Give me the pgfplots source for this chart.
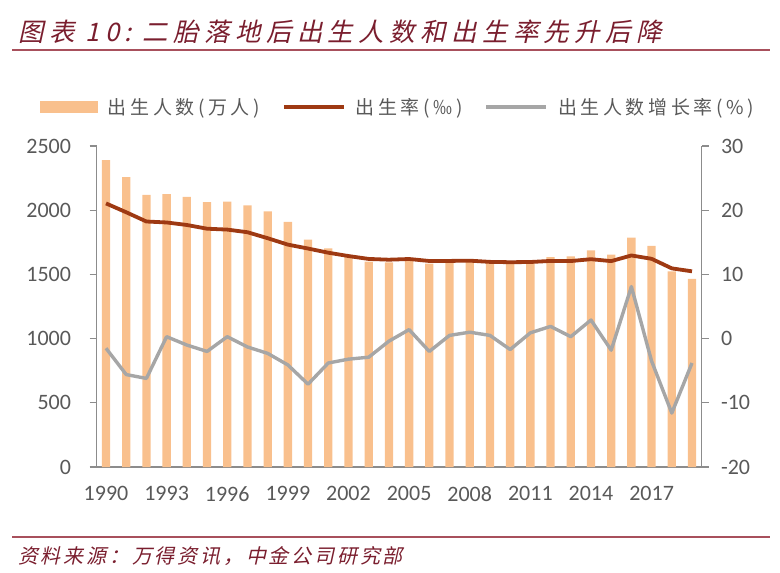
\documentclass[border=0pt]{standalone}
\usepackage{fontspec}
\setmainfont{Carlito}
\newfontfamily\cjkleg{Noto Sans CJK SC}[LetterSpace=19]
\newfontfamily\cjktitle{Noto Sans CJK SC}[FakeSlant=0.22,LetterSpace=21]
\newfontfamily\cjksrc{Noto Sans CJK SC}[FakeSlant=0.22,LetterSpace=14]
\usepackage{pgfplots}
\usepackage{pgfplotstable}
\pgfplotsset{compat=1.18}

\definecolor{barcol}{HTML}{F9C08D}
\definecolor{ratecol}{HTML}{9E3912}
\definecolor{growcol}{HTML}{A6A6A6}
\definecolor{axgray}{HTML}{8C8C8C}
\definecolor{txtgray}{HTML}{595959}
\definecolor{titlered}{HTML}{7A1E2E}
\definecolor{rulered}{HTML}{A8505C}

% year, births (10k), birth rate (permille), growth of births (%)
\pgfplotstableread{
year births rate growth
1990 2391 21.06 -1.5
1991 2258 19.68 -5.6
1992 2119 18.24 -6.2
1993 2126 18.09 0.3
1994 2104 17.70 -1.0
1995 2063 17.12 -2.0
1996 2067 16.98 0.3
1997 2038 16.57 -1.3
1998 1991 15.64 -2.3
1999 1909 14.64 -4.1
2000 1771 14.03 -7.1
2001 1702 13.38 -3.8
2002 1647 12.86 -3.2
2003 1599 12.41 -2.9
2004 1593 12.29 -0.4
2005 1617 12.40 1.4
2006 1584 12.09 -2.0
2007 1594 12.10 0.5
2008 1608 12.14 1.0
2009 1591 11.95 0.5
2010 1592 11.90 -1.7
2011 1604 11.93 0.9
2012 1635 12.10 1.9
2013 1640 12.08 0.3
2014 1687 12.37 2.9
2015 1655 12.07 -1.8
2016 1786 12.95 8.1
2017 1723 12.43 -3.5
2018 1523 10.94 -11.6
2019 1465 10.48 -3.8
}\data

\pgfplotsset{
  common/.style={
    scale only axis, width=605bp, height=321bp,
    at={(96.5bp,-467bp)}, anchor=south west,
    xmin=1989.53, xmax=2019.47,
    axis line style={draw=axgray, line width=1.3bp, -},
    tick style={draw=axgray, line width=1.3bp},
    tick align=outside, major tick length=7bp,
    tick label style={font=\fontsize{22bp}{26bp}\selectfont, text=txtgray},
    /pgf/number format/assume math mode=true,
    /pgf/number format/1000 sep={},
  },
}

\begin{document}
\begin{tikzpicture}
\useasboundingbox (0,-573bp) rectangle (780bp,0);

\node[anchor=west, inner sep=0, text=titlered, font=\cjktitle\fontsize{25.5bp}{30bp}\selectfont]
  at (18bp,-32bp) {图表 10:~二胎落地后出生人数和出生率先升后降};
\draw[rulered, line width=2.5bp] (12bp,-50bp) -- (770bp,-50bp);
\draw[rulered, line width=2bp] (12bp,-537bp) -- (770bp,-537bp);
\node[anchor=west, inner sep=0, text=titlered, font=\cjksrc\fontsize{20bp}{24bp}\selectfont]
  at (18bp,-556bp) {资料来源：万得资讯，中金公司研究部};

\begin{axis}[common,
  axis x line*=bottom, axis y line*=left,
  ymin=0, ymax=2500, ytick={0,500,...,2500},
  xtick={1990,1993,...,2017},
  x tick style={draw=none},
  xticklabel style={yshift=-9bp},
  yticklabel style={xshift=-15bp},
]
\addplot[ybar, bar width=8.3bp, fill=barcol, draw=none] table[x=year, y=births] {\data};
\end{axis}

\begin{axis}[common,
  axis x line=none, axis y line*=right,
  ymin=-20, ymax=30, ytick={-20,-10,...,30},
  yticklabel style={xshift=9bp},
  legend style={at={(-0.093,1.122)}, anchor=west, draw=none, fill=none,
    inner sep=0pt, font=\cjkleg\fontsize{19bp}{22bp}\selectfont, text=txtgray,
    legend columns=3, cells={anchor=west}, nodes={inner sep=0pt},
    /tikz/every odd column/.append style={column sep=10bp},
    /tikz/every even column/.append style={column sep=22bp}},
  legend image code/.code={\draw[#1] (0bp,0bp) -- (60bp,0bp);},
]
\addlegendimage{legend image code/.code={\fill[barcol] (0bp,-5.5bp) rectangle (57bp,5.5bp);}}
\addlegendentry{出生人数(万人)}
\addplot[ratecol, line width=3.8bp, line join=round] table[x=year, y=rate] {\data};
\addlegendentry{出生率(‰)}
\addplot[growcol, line width=3.4bp, line join=round] table[x=year, y=growth] {\data};
\addlegendentry{出生人数增长率(\%)}
\end{axis}
\end{tikzpicture}
\end{document}
